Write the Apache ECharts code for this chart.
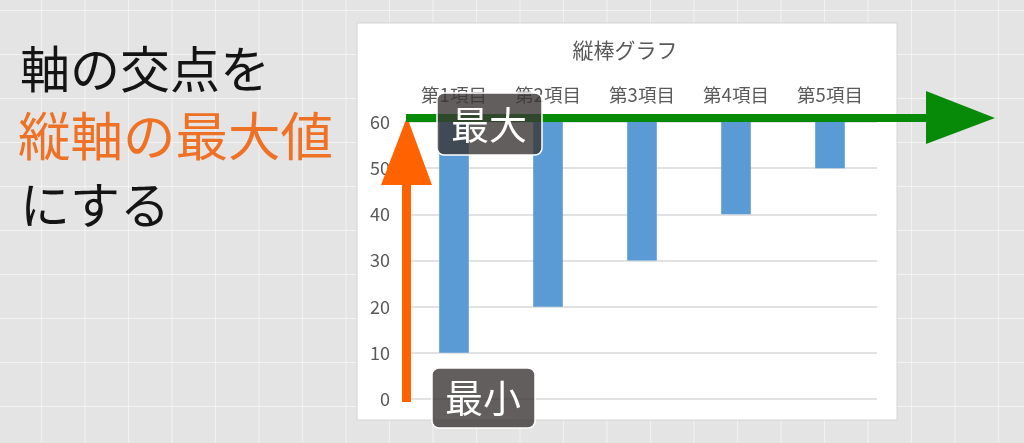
<!DOCTYPE html>
<html><head><meta charset="utf-8">
<script src="https://cdn.jsdelivr.net/npm/echarts@6/dist/echarts.min.js"></script>
<style>
html,body{margin:0;padding:0;width:1024px;height:443px;overflow:hidden;
background-color:#e4e4e4;
background-image:linear-gradient(to right, rgba(255,255,255,0.5) 1px, transparent 1px), linear-gradient(to bottom, rgba(255,255,255,0.5) 1px, transparent 1px);
background-size:43.5px 44px; background-position:41px 10px;}
#c{width:1024px;height:443px;}
</style></head><body><div id="c"></div>
<script>
const chartTitle = '縦棒グラフ';
const categories = ['第1項目', '第2項目', '第3項目', '第4項目', '第5項目'];
const values = [10, 20, 30, 40, 50];
const yTicks = [0, 10, 20, 30, 40, 50, 60];
const headline = ['軸の交点を', '縦軸の最大値', 'にする'];
const callouts = ['最大', '最小'];

const yMin = yTicks[0];
const yMax = yTicks[yTicks.length - 1];
const FONT = '"Noto Sans CJK JP", "Noto Sans", sans-serif';

const chart = echarts.init(document.getElementById('c'), null, {renderer: 'canvas'});
chart.setOption({
  animation: false,
  backgroundColor: 'transparent',
  textStyle: {fontFamily: FONT},
  title: {
    text: chartTitle, left: 620, top: 35, textAlign: 'center',
    textStyle: {fontSize: 21, fontWeight: 'normal', color: '#595959', fontFamily: FONT}
  },
  grid: {left: 407, right: 147, top: 122, bottom: 44, containLabel: false},
  xAxis: {
    type: 'category', data: categories, position: 'top',
    axisLine: {show: false}, axisTick: {show: false},
    axisLabel: {fontSize: 18.5, color: '#595959', margin: 18, fontFamily: FONT}
  },
  yAxis: {
    type: 'value', min: yMin, max: yMax, interval: yTicks[1] - yTicks[0],
    axisLine: {show: false}, axisTick: {show: false},
    axisLabel: {fontSize: 18, color: '#595959', margin: 17, fontFamily: FONT},
    splitLine: {lineStyle: {color: '#d9d9d9', width: 1.5}}
  },
  series: [{
    type: 'custom',
    data: values.map((v, i) => [i, v]),
    encode: {x: 0, y: 1},
    renderItem: function (params, api) {
      const idx = api.value(0);
      const v = api.value(1);
      const pv = api.coord([idx, v]);
      const pm = api.coord([idx, yMax]);
      const bw = api.size([1, 0])[0] * 0.315;
      return {
        type: 'rect',
        shape: {x: pv[0] - bw / 2, y: pm[1], width: bw, height: pv[1] - pm[1]},
        style: {fill: '#5b9bd5'}
      };
    }
  }],
  graphic: {elements: [
    {type: 'rect', z: -100, shape: {x: 357, y: 23, width: 540, height: 397},
      style: {fill: '#ffffff', stroke: '#d4d4d4', lineWidth: 1}},
    {type: 'text', z: 100, left: 20, top: 44,
      style: {text: headline[0], fontSize: 50, fill: '#141414', fontFamily: FONT}},
    {type: 'text', z: 100, left: 18, top: 110,
      style: {text: headline[1], fontSize: 52.5, fill: '#ee7125', fontFamily: FONT}},
    {type: 'text', z: 100, left: 20, top: 180,
      style: {text: headline[2], fontSize: 50, fill: '#141414', fontFamily: FONT}},
    // orange arrow (min -> max)
    {type: 'rect', z: 100, shape: {x: 402, y: 184, width: 9, height: 218}, style: {fill: '#ff6200'}},
    {type: 'polygon', z: 100, shape: {points: [[381, 185], [407, 117], [432, 185]]}, style: {fill: '#ff6200'}},
    // green arrow along axis crossing
    {type: 'rect', z: 101, shape: {x: 406, y: 114, width: 522, height: 8}, style: {fill: '#078a07'}},
    {type: 'polygon', z: 101, shape: {points: [[926, 91], [995, 118], [926, 144]]}, style: {fill: '#078a07'}},
    // callouts
    {type: 'rect', z: 110, shape: {x: 437, y: 93, width: 105, height: 62, r: 7},
      style: {fill: 'rgba(58,54,52,0.8)', stroke: '#ffffff', lineWidth: 1.5}},
    {type: 'text', z: 111, x: 489, y: 125,
      style: {text: callouts[0], fontSize: 38, fill: '#ffffff', align: 'center', verticalAlign: 'middle', fontFamily: FONT}},
    {type: 'rect', z: 110, shape: {x: 432, y: 368, width: 103, height: 60, r: 7},
      style: {fill: 'rgba(58,54,52,0.8)', stroke: '#ffffff', lineWidth: 1.5}},
    {type: 'text', z: 111, x: 483, y: 398,
      style: {text: callouts[1], fontSize: 38, fill: '#ffffff', align: 'center', verticalAlign: 'middle', fontFamily: FONT}}
  ]}
});
</script></body></html>
